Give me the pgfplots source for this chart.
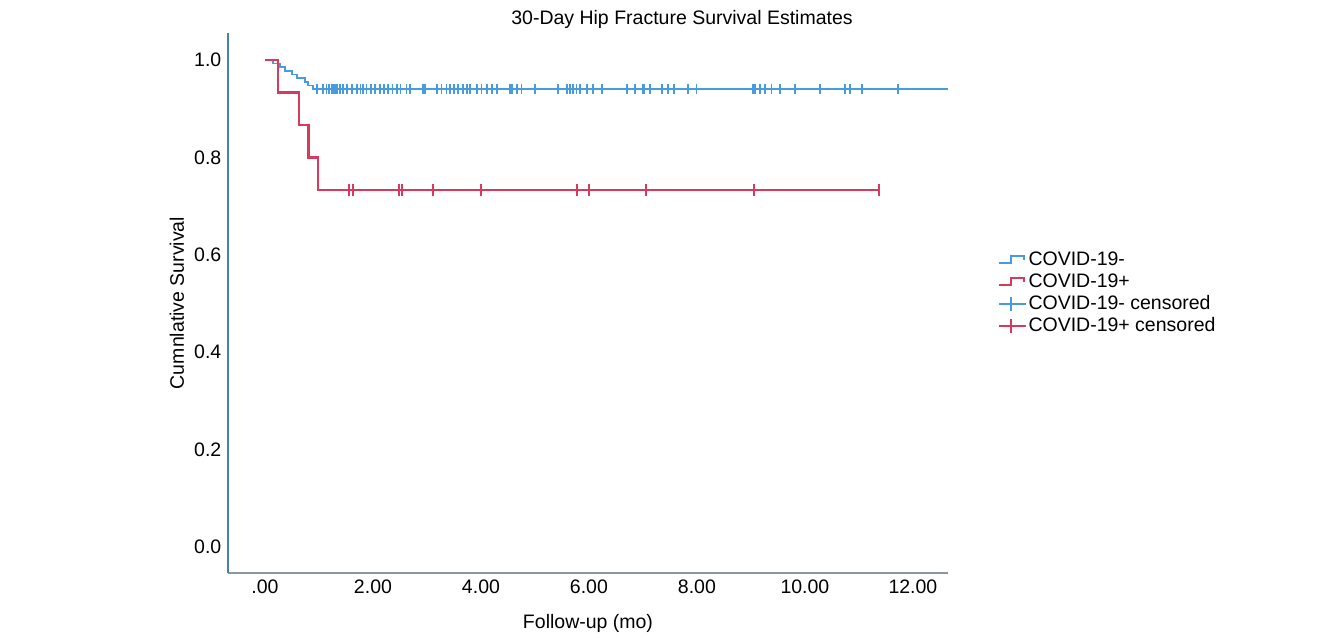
\documentclass[border=0pt]{standalone}
\usepackage{pgfplots}
\pgfplotsset{compat=1.18}
\usepackage{fontspec}
\setmainfont{Liberation Sans}

\definecolor{kmblue}{RGB}{72,155,222}
\definecolor{kmred}{RGB}{214,58,92}
\definecolor{yaxisc}{RGB}{70,130,170}
\definecolor{xaxisc}{RGB}{140,150,160}

\newcommand{\chartfont}{\fontsize{19.5pt}{23pt}\selectfont}

\pgfplotsset{
  kmstep/.style={legend image code/.code={%
    \draw[##1] (0pt,-3pt) -- (12pt,-3pt) -- (12pt,4pt) -- (25pt,4pt) -- (25pt,0pt);}},
  kmcens/.style={legend image code/.code={%
    \draw[##1] (0pt,0pt) -- (27pt,0pt); \draw[##1] (12pt,-7pt) -- (12pt,7pt);}},
}

\begin{document}
\chartfont
\begin{tikzpicture}[x=1pt,y=1pt]
\useasboundingbox (0,0) rectangle (1321,637);
\begin{axis}[
  at={(228pt,64pt)}, anchor=south west,
  width=720pt, height=540pt, scale only axis,
  xmin=-0.685, xmax=12.65, ymin=-0.0534, ymax=1.0554,
  axis x line=bottom, axis y line=left,
  x axis line style={-, draw=xaxisc, line width=1.4pt},
  y axis line style={-, draw=yaxisc, line width=1.4pt},
  major tick length=0pt,
  xtick={0,2,4,6,8,10,12},
  xticklabels={.00,2.00,4.00,6.00,8.00,10.00,12.00},
  ytick={0,0.2,0.4,0.6,0.8,1.0},
  yticklabels={0.0,0.2,0.4,0.6,0.8,1.0},
  tick label style={font=\chartfont},
  xlabel={Follow-up (mo)}, ylabel={Cumnlative Survival},
  label style={font=\chartfont},
  xlabel style={at={(axis description cs:0.5,-0.0926)}, anchor=center},
  ylabel style={at={(axis description cs:-0.0708,0.5)}, anchor=center},
  legend style={at={(axis description cs:1.065,0.6037)}, anchor=north west,
    draw=none, fill=none, font=\chartfont,
    nodes={text height=15pt, text depth=4pt, inner sep=1.5pt}},
  legend cell align=left,
]
% COVID-19- survival curve
\addplot[const plot, kmblue, line width=1.7pt, forget plot] coordinates {
  (0,1) (0.15,0.9925) (0.28,0.985) (0.37,0.9775) (0.50,0.97) (0.59,0.9625)
  (0.74,0.955) (0.80,0.9475) (0.89,0.94) (12.65,0.94)
};
% COVID-19- censored
\addplot[only marks, mark=|, mark size=5pt, kmblue, mark options={line width=1.8pt}, forget plot] coordinates {
  (0.96,0.94) (1.07,0.94) (1.14,0.94) (1.19,0.94) (1.23,0.94) (1.26,0.94) (1.30,0.94)
  (1.34,0.94) (1.39,0.94) (1.45,0.94) (1.52,0.94) (1.61,0.94) (1.70,0.94) (1.77,0.94)
  (1.82,0.94) (1.88,0.94) (1.96,0.94) (2.04,0.94) (2.13,0.94) (2.20,0.94) (2.28,0.94)
  (2.36,0.94) (2.44,0.94) (2.51,0.94) (2.62,0.94) (2.69,0.94) (2.93,0.94) (2.96,0.94)
  (3.18,0.94) (3.27,0.94) (3.36,0.94) (3.43,0.94) (3.50,0.94) (3.58,0.94) (3.67,0.94)
  (3.74,0.94) (3.80,0.94) (3.92,0.94) (4.01,0.94) (4.11,0.94) (4.20,0.94) (4.29,0.94)
  (4.54,0.94) (4.58,0.94) (4.66,0.94) (4.75,0.94) (5.00,0.94) (5.43,0.94) (5.59,0.94)
  (5.65,0.94) (5.71,0.94) (5.77,0.94) (5.83,0.94) (5.96,0.94) (6.08,0.94) (6.24,0.94)
  (6.70,0.94) (6.85,0.94) (6.99,0.94) (7.02,0.94) (7.13,0.94) (7.35,0.94) (7.47,0.94)
  (7.57,0.94) (7.84,0.94) (7.99,0.94) (9.04,0.94) (9.07,0.94) (9.17,0.94) (9.26,0.94)
  (9.38,0.94) (9.54,0.94) (9.81,0.94) (10.28,0.94) (10.74,0.94) (10.83,0.94)
  (11.06,0.94) (11.73,0.94)
};
% COVID-19+ survival curve
\addplot[const plot, kmred, line width=2.6pt, forget plot] coordinates {
  (0,1) (0.24,0.9333) (0.63,0.8667) (0.81,0.8) (0.98,0.7333) (11.37,0.7333)
};
% COVID-19+ censored
\addplot[only marks, mark=|, mark size=6pt, kmred, mark options={line width=2pt}, forget plot] coordinates {
  (1.56,0.7333) (1.63,0.7333) (2.48,0.7333) (2.54,0.7333) (3.11,0.7333) (4.00,0.7333)
  (5.78,0.7333) (6.00,0.7333) (7.06,0.7333) (9.06,0.7333) (11.37,0.7333)
};

\addlegendimage{kmblue, line width=1.5pt, kmstep}
\addlegendentry{COVID-19-}
\addlegendimage{kmred, line width=2pt, kmstep}
\addlegendentry{COVID-19+}
\addlegendimage{kmblue, line width=1.5pt, kmcens}
\addlegendentry{COVID-19- censored}
\addlegendimage{kmred, line width=2pt, kmcens}
\addlegendentry{COVID-19+ censored}
\end{axis}
\node[font=\chartfont, anchor=center] at (682,618) {30-Day Hip Fracture Survival Estimates};
\end{tikzpicture}
\end{document}
